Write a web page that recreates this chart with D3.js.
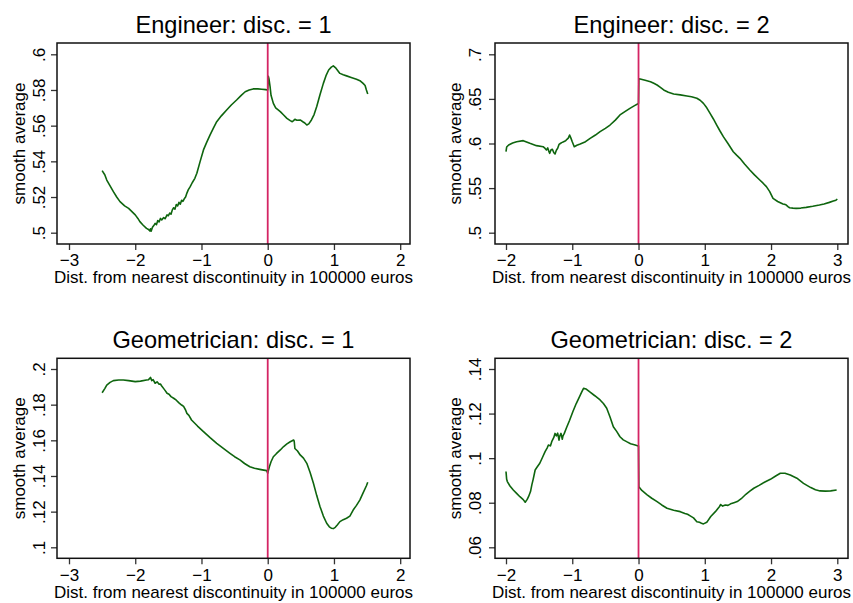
<!DOCTYPE html>
<html><head><meta charset="utf-8">
<script src="https://cdn.jsdelivr.net/npm/d3@7"></script>
<style>
html,body{margin:0;padding:0;background:#fff;}
text{font-family:"Liberation Sans",Arial,sans-serif;fill:#000;}
</style></head>
<body><svg id="c" width="853" height="603"></svg>
<script>
// ---------- data ----------
const titles = ["Engineer: disc. = 1","Engineer: disc. = 2","Geometrician: disc. = 1","Geometrician: disc. = 2"];
const xLabel = "Dist. from nearest discontinuity in 100000 euros";
const yLabel = "smooth average";

const xTicksA = [-3,-2,-1,0,1,2];
const xTicksB = [-2,-1,0,1,2,3];
const yTicks1 = [0.5,0.52,0.54,0.56,0.58,0.6];
const yTickLabels1 = [".5",".52",".54",".56",".58",".6"];
const yTicks2 = [0.5,0.55,0.6,0.65,0.7];
const yTickLabels2 = [".5",".55",".6",".65",".7"];
const yTicks3 = [0.1,0.12,0.14,0.16,0.18,0.2];
const yTickLabels3 = [".1",".12",".14",".16",".18",".2"];
const yTicks4 = [0.06,0.08,0.1,0.12,0.14];
const yTickLabels4 = [".06",".08",".1",".12",".14"];

// Engineer disc 1
const eng1X = [-2.50,-2.46,-2.43,-2.38,-2.33,-2.28,-2.23,-2.16,-2.10,-2.05,-2.00,-1.96,-1.93,-1.88,-1.83,-1.80,-1.78,-1.77,-1.76,-1.74,-1.72,-1.70,-1.68,-1.66,-1.64,-1.62,-1.60,-1.57,-1.55,-1.52,-1.50,-1.48,-1.46,-1.44,-1.42,-1.40,-1.38,-1.36,-1.34,-1.32,-1.30,-1.28,-1.26,-1.24,-1.22,-1.20,-1.17,-1.14,-1.10,-1.07,-1.02,-0.97,-0.92,-0.87,-0.82,-0.77,-0.70,-0.62,-0.55,-0.47,-0.40,-0.34,-0.28,-0.22,-0.15,-0.09,-0.03,-0.005,0.0,0.01,0.02,0.035,0.05,0.085,0.12,0.19,0.24,0.29,0.34,0.37,0.39,0.41,0.44,0.49,0.53,0.56,0.59,0.62,0.66,0.70,0.74,0.79,0.84,0.88,0.92,0.96,0.99,1.03,1.09,1.14,1.19,1.26,1.34,1.40,1.44,1.47,1.49,1.51];
const eng1Y = [0.5348,0.5325,0.5295,0.5262,0.5230,0.5200,0.5174,0.5150,0.5136,0.5118,0.5100,0.5080,0.5062,0.5042,0.5024,0.5018,0.5010,0.5022,0.5008,0.5030,0.5040,0.5052,0.5045,0.5068,0.5060,0.5080,0.5072,0.5085,0.5078,0.5100,0.5095,0.5110,0.5104,0.5128,0.5140,0.5132,0.5158,0.5150,0.5170,0.5160,0.5182,0.5176,0.5190,0.5200,0.5222,0.5240,0.5258,0.5280,0.5305,0.5333,0.5400,0.5464,0.5508,0.5548,0.5586,0.5622,0.5655,0.5688,0.5716,0.5744,0.5770,0.5790,0.5800,0.5806,0.5806,0.5804,0.5802,0.5800,0.5800,0.5876,0.5860,0.5820,0.5770,0.5725,0.5700,0.5679,0.5660,0.5641,0.5628,0.5622,0.5628,0.5636,0.5630,0.5632,0.5622,0.5615,0.5604,0.5610,0.5632,0.5662,0.5707,0.5775,0.5837,0.5880,0.5912,0.5928,0.5935,0.5922,0.5893,0.5885,0.5879,0.5870,0.5860,0.5850,0.5837,0.5825,0.5800,0.5778];

// Engineer disc 2
const eng2X = [-2.00,-1.99,-1.96,-1.90,-1.84,-1.74,-1.64,-1.54,-1.44,-1.41,-1.39,-1.37,-1.35,-1.34,-1.32,-1.30,-1.28,-1.26,-1.24,-1.22,-1.20,-1.18,-1.16,-1.13,-1.10,-1.08,-1.06,-1.04,-1.02,-1.00,-0.97,-0.93,-0.88,-0.80,-0.73,-0.65,-0.58,-0.50,-0.43,-0.35,-0.28,-0.20,-0.13,-0.06,-0.015,0.0,0.005,0.025,0.10,0.18,0.23,0.28,0.33,0.38,0.45,0.53,0.63,0.73,0.80,0.88,0.93,0.98,1.03,1.08,1.13,1.18,1.23,1.28,1.35,1.43,1.48,1.53,1.60,1.68,1.75,1.83,1.88,1.93,1.98,2.03,2.10,2.18,2.21,2.23,2.26,2.28,2.33,2.38,2.45,2.53,2.63,2.73,2.80,2.88,2.94,2.98,3.00];
const eng2Y = [0.5908,0.5960,0.5983,0.6005,0.6020,0.6032,0.6002,0.5976,0.5964,0.5945,0.5927,0.5950,0.5905,0.5890,0.5930,0.5935,0.5900,0.5882,0.5925,0.5946,0.5990,0.6000,0.6010,0.6020,0.6030,0.6047,0.6060,0.6095,0.6060,0.6020,0.5964,0.5980,0.5994,0.6020,0.6058,0.6095,0.6133,0.6170,0.6207,0.6262,0.6320,0.6360,0.6394,0.6425,0.6443,0.6450,0.6727,0.6723,0.6708,0.6693,0.6675,0.6656,0.6630,0.6600,0.6575,0.6555,0.6545,0.6533,0.6525,0.6507,0.6485,0.6450,0.6400,0.6338,0.6275,0.6207,0.6140,0.6077,0.6000,0.5908,0.5870,0.5834,0.5770,0.5703,0.5648,0.5591,0.5555,0.5516,0.5460,0.5385,0.5350,0.5321,0.5318,0.5310,0.5290,0.5280,0.5276,0.5273,0.5276,0.5284,0.5296,0.5310,0.5322,0.5340,0.5355,0.5365,0.5378];

// Geometrician disc 1
const geo1X = [-2.50,-2.46,-2.43,-2.38,-2.33,-2.25,-2.18,-2.10,-2.00,-1.92,-1.83,-1.80,-1.78,-1.77,-1.75,-1.73,-1.70,-1.67,-1.64,-1.62,-1.60,-1.57,-1.55,-1.52,-1.49,-1.46,-1.42,-1.38,-1.34,-1.30,-1.27,-1.24,-1.22,-1.19,-1.15,-1.06,-0.97,-0.87,-0.77,-0.67,-0.57,-0.50,-0.42,-0.35,-0.27,-0.20,-0.12,-0.06,-0.015,0.0,0.01,0.025,0.05,0.085,0.13,0.19,0.24,0.29,0.34,0.37,0.39,0.40,0.41,0.45,0.49,0.54,0.59,0.64,0.69,0.74,0.79,0.84,0.89,0.93,0.96,0.99,1.02,1.05,1.09,1.14,1.19,1.24,1.29,1.34,1.39,1.44,1.49,1.51];
const geo1Y = [0.1867,0.1890,0.1910,0.1925,0.1935,0.1938,0.1938,0.1935,0.1929,0.1932,0.1938,0.1940,0.1947,0.1953,0.1935,0.1940,0.1920,0.1928,0.1915,0.1916,0.1905,0.1890,0.1880,0.1864,0.1858,0.1845,0.1836,0.1825,0.1810,0.1798,0.1790,0.1770,0.1751,0.1740,0.1714,0.1680,0.1649,0.1615,0.1583,0.1555,0.1527,0.1508,0.1490,0.1470,0.1452,0.1443,0.1437,0.1433,0.1430,0.1415,0.1430,0.1452,0.1480,0.1508,0.1525,0.1546,0.1565,0.1580,0.1592,0.1598,0.1602,0.1595,0.1554,0.1540,0.1518,0.1500,0.1471,0.1420,0.1359,0.1290,0.1228,0.1175,0.1135,0.1115,0.1107,0.1105,0.1112,0.1125,0.1144,0.1155,0.1163,0.1175,0.1209,0.1235,0.1265,0.1305,0.1345,0.1365];

// Geometrician disc 2
const geo2X = [-2.00,-1.99,-1.98,-1.94,-1.89,-1.84,-1.79,-1.74,-1.71,-1.68,-1.66,-1.63,-1.61,-1.59,-1.56,-1.53,-1.49,-1.45,-1.41,-1.38,-1.36,-1.33,-1.31,-1.28,-1.26,-1.24,-1.22,-1.20,-1.19,-1.17,-1.15,-1.14,-1.12,-1.09,-1.04,-0.99,-0.94,-0.89,-0.86,-0.83,-0.79,-0.74,-0.66,-0.58,-0.53,-0.48,-0.43,-0.38,-0.33,-0.28,-0.23,-0.18,-0.12,-0.05,-0.005,0.0,0.005,0.05,0.13,0.20,0.28,0.35,0.43,0.53,0.63,0.70,0.74,0.78,0.83,0.88,0.92,0.95,0.98,1.03,1.09,1.16,1.22,1.24,1.27,1.31,1.35,1.39,1.44,1.49,1.55,1.62,1.68,1.74,1.82,1.90,1.99,2.07,2.14,2.21,2.29,2.39,2.49,2.60,2.67,2.74,2.82,2.90,2.99];
const geo2Y = [0.0940,0.0905,0.0895,0.0875,0.0857,0.0842,0.0827,0.0814,0.0802,0.0815,0.0827,0.0850,0.0880,0.0905,0.0947,0.0960,0.0977,0.1003,0.1029,0.1045,0.1059,0.1055,0.1074,0.1092,0.1111,0.1100,0.1112,0.1081,0.1098,0.1111,0.1085,0.1100,0.1111,0.1134,0.1170,0.1209,0.1245,0.1276,0.1295,0.1313,0.1310,0.1298,0.1280,0.1261,0.1245,0.1224,0.1185,0.1141,0.1120,0.1096,0.1082,0.1074,0.1065,0.1059,0.1055,0.1055,0.0872,0.0855,0.0835,0.0820,0.0805,0.0790,0.0775,0.0766,0.0760,0.0752,0.0748,0.0741,0.0732,0.0715,0.0712,0.0708,0.0705,0.0712,0.0738,0.0760,0.0782,0.0792,0.0785,0.0790,0.0788,0.0795,0.0800,0.0805,0.0818,0.0838,0.0852,0.0865,0.0878,0.0892,0.0905,0.0920,0.0932,0.0932,0.0924,0.0910,0.0887,0.0868,0.0858,0.0853,0.0852,0.0853,0.0857];

// ---------- layout (positions, not data) ----------
const panels = [
  {title:titles[0], xs:eng1X, ys:eng1Y, xt:xTicksA, yt:yTicks1, ytl:yTickLabels1,
   box:[57,43,410,244], xr:[69,400.2], yr:[232.7,54.3], titleY:33.3, tickLabX:45, axTitX:24.5},
  {title:titles[1], xs:eng2X, ys:eng2Y, xt:xTicksB, yt:yTicks2, ytl:yTickLabels2,
   box:[495,43,848,244], xr:[506,837.3], yr:[232.7,54.3], titleY:33.3, tickLabX:480.5, axTitX:461},
  {title:titles[2], xs:geo1X, ys:geo1Y, xt:xTicksA, yt:yTicks3, ytl:yTickLabels3,
   box:[57,358.3,410,558.3], xr:[69,400.2], yr:[547.3,369], titleY:348.3, tickLabX:45, axTitX:24.5},
  {title:titles[3], xs:geo2X, ys:geo2Y, xt:xTicksB, yt:yTicks4, ytl:yTickLabels4,
   box:[495,358.3,848,558.3], xr:[506,837.3], yr:[547.3,369], titleY:348.3, tickLabX:480.5, axTitX:461}
];

const svg = d3.select("#c");
svg.append("rect").attr("width",853).attr("height",603).attr("fill","#fff");

const fmtX = d => (d<0 ? "\u2212"+Math.abs(d) : String(d));

panels.forEach((p,i)=>{
  const [x0,y0,x1,y1] = p.box;
  const dx = p.xt[p.xt.length-1]-p.xt[0];
  const x = d3.scaleLinear().domain([p.xt[0], p.xt[p.xt.length-1]]).range(p.xr);
  const y = d3.scaleLinear().domain([p.yt[0], p.yt[p.yt.length-1]]).range(p.yr);
  const g = svg.append("g");

  // title
  g.append("text").attr("x",(x0+x1)/2).attr("y",p.titleY).attr("text-anchor","middle")
    .style("font-size","23.6px").text(p.title);

  // x axis
  const xa = g.append("g").attr("transform",`translate(0,${y1})`)
    .call(d3.axisBottom(x).tickValues(p.xt).tickSize(6).tickSizeOuter(0).tickFormat(fmtX));
  xa.select(".domain").remove();
  xa.selectAll(".tick line").attr("stroke","#333").attr("stroke-width",1.3);
  xa.selectAll(".tick text").attr("y",0).attr("dy",0)
    .attr("transform","translate(0,22.3)").style("font-size","17px").attr("font-family",null);

  // y axis
  const ya = g.append("g").attr("transform",`translate(${x0},0)`)
    .call(d3.axisLeft(y).tickValues(p.yt).tickSize(6).tickSizeOuter(0).tickFormat((d,k)=>p.ytl[k]));
  ya.select(".domain").remove();
  ya.selectAll(".tick line").attr("stroke","#333").attr("stroke-width",1.3);
  ya.selectAll(".tick text").attr("x",0).attr("dy",0).attr("text-anchor","middle")
    .attr("transform",`translate(${p.tickLabX - x0},0) rotate(-90)`)
    .style("font-size","17px").attr("font-family",null);

  // axis titles
  g.append("text").attr("x",(x0+x1)/2).attr("y",y1+39.2).attr("text-anchor","middle")
    .style("font-size","17px").text(xLabel);
  g.append("text").attr("transform",`translate(${p.axTitX},${(y0+y1)/2}) rotate(-90)`)
    .attr("text-anchor","middle").style("font-size","17px").text(yLabel);

  // data line
  const pts = p.xs.map((v,k)=>[v,p.ys[k]]);
  g.append("path").datum(pts)
    .attr("d", d3.line().x(d=>x(d[0])).y(d=>y(d[1])))
    .attr("fill","none").attr("stroke","#0e650e").attr("stroke-width",1.6).attr("stroke-linejoin","round");

  // vertical reference line at 0
  g.append("line").attr("x1",x(0)).attr("x2",x(0)).attr("y1",y0).attr("y2",y1)
    .attr("stroke","#d42464").attr("stroke-width",1.8);

  // frame
  g.append("rect").attr("x",x0).attr("y",y0).attr("width",x1-x0).attr("height",y1-y0)
    .attr("fill","none").attr("stroke","#111").attr("stroke-width",1.5);
});
</script></body></html>
